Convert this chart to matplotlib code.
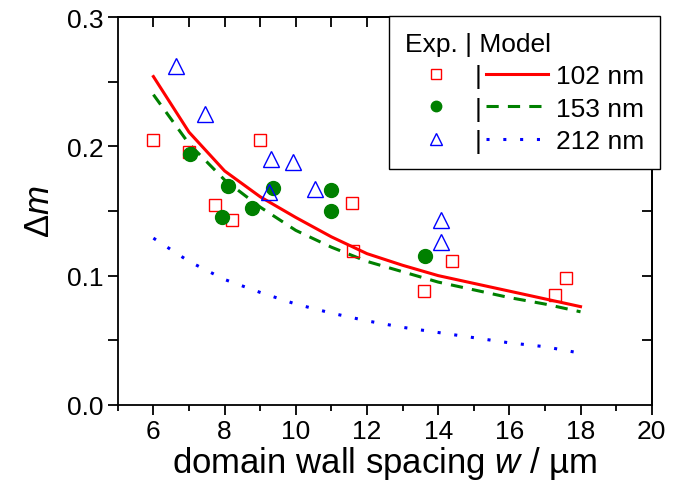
import numpy as np
import matplotlib
matplotlib.use("Agg")
import matplotlib.pyplot as plt
from matplotlib.legend_handler import HandlerLine2D

plt.rcParams['font.family'] = ['Liberation Sans', 'DejaVu Sans']
plt.rcParams['mathtext.fontset'] = 'custom'
plt.rcParams['mathtext.it'] = 'Liberation Sans:italic'
plt.rcParams['mathtext.rm'] = 'Liberation Sans'

# experimental points
exp102_w = [6.0, 7.0, 7.72, 8.2, 9.0, 11.57, 11.6, 13.6, 14.38, 17.27, 17.58]
exp102_m = [0.205, 0.196, 0.155, 0.143, 0.205, 0.156, 0.119, 0.088, 0.111, 0.085, 0.098]
exp153_w = [7.02, 8.09, 7.92, 8.76, 9.35, 10.98, 10.98, 13.62]
exp153_m = [0.194, 0.169, 0.145, 0.152, 0.168, 0.166, 0.150, 0.115]
exp212_w = [6.63, 7.44, 9.3, 9.92, 9.24, 10.53, 14.07, 14.07]
exp212_m = [0.262, 0.225, 0.190, 0.188, 0.165, 0.167, 0.143, 0.126]

# model curves
model_w = [6, 7, 8, 9, 10, 11, 12, 13, 14, 15, 16, 17, 18]
model102 = [0.254, 0.211, 0.181, 0.161, 0.145, 0.130, 0.117, 0.108, 0.100, 0.094, 0.088, 0.082, 0.076]
model153 = [0.240, 0.202, 0.174, 0.153, 0.135, 0.122, 0.111, 0.103, 0.095, 0.089, 0.083, 0.078, 0.072]
model212 = [0.129, 0.111, 0.097, 0.087, 0.078, 0.071, 0.065, 0.060, 0.056, 0.052, 0.048, 0.045, 0.040]

labels = ['102 nm', '153 nm', '212 nm']


class MarkerRight(HandlerLine2D):
    # put the legend marker near the right end of its handle box
    def get_xdata(self, legend, xdescent, ydescent, width, height, fontsize):
        xdata = [-xdescent, -xdescent + width]
        return xdata, [-xdescent + 0.68 * width]


fig = plt.figure(figsize=(6.81, 4.89), dpi=100)
ax = fig.add_axes([0.173, 0.170, 0.784, 0.793])

l1, = ax.plot(model_w, model102, color='red', lw=2.2, ls='-')
l2, = ax.plot(model_w, model153, color='green', lw=2.2, ls=(0, (4, 3)))
l3, = ax.plot(model_w, model212, color='blue', lw=2.2, ls=(0, (1, 4.5)))

p1, = ax.plot(exp102_w, exp102_m, 's', ms=9, mfc='none', mec='red', mew=1.0, ls='none')
p2, = ax.plot(exp153_w, exp153_m, 'o', ms=10, mfc='green', mec='green', ls='none')
p3, = ax.plot(exp212_w, exp212_m, '^', ms=11, mfc='none', mec='blue', mew=1.0, ls='none')

ax.set_xlim(5, 20)
ax.set_ylim(0, 0.3)
ax.set_xticks(np.arange(6, 21, 2))
ax.set_xticks(np.arange(5, 21, 1), minor=True)
ax.set_yticks([0.0, 0.1, 0.2, 0.3])
ax.set_yticks(np.arange(0, 0.31, 0.05), minor=True)
ax.set_yticklabels(['0.0', '0.1', '0.2', '0.3'])
ax.tick_params(which='major', direction='out', length=7, width=1.3, labelsize=19, pad=3)
ax.tick_params(which='minor', direction='out', length=4, width=1.3)
ax.tick_params(axis='y', which='minor', length=7)

# mirrored axes with inward ticks
secx = ax.secondary_xaxis('top')
secx.set_xticks(np.arange(6, 21, 1))
secx.tick_params(direction='in', length=7, width=1.3, labeltop=False)
secy = ax.secondary_yaxis('right')
secy.set_yticks(np.arange(0.05, 0.31, 0.05))
secy.tick_params(direction='in', length=7, width=1.3, labelright=False)
for s in list(ax.spines.values()) + [secx.spines['top'], secy.spines['right']]:
    s.set_linewidth(1.3)

ax.set_xlabel('domain wall spacing $\\mathit{w}$ / µm', fontsize=25, labelpad=1)
ax.set_ylabel('$\\Delta\\mathit{m}$', fontsize=25, labelpad=8)

handles = [p1, p2, p3, l1, l2, l3]
leg_labels = ['|', '|', '|'] + labels
mr = MarkerRight(numpoints=1)
leg = ax.legend(handles, leg_labels, ncol=2, title='Exp. | Model', title_fontsize=19,
                fontsize=19, loc='upper right', bbox_to_anchor=(1.015, 1.003),
                frameon=True, fancybox=False, edgecolor='black', framealpha=1,
                markerscale=0.75, handlelength=2.35, columnspacing=0.15, handletextpad=0.3,
                labelspacing=0.32, borderpad=0.6, borderaxespad=0,
                handler_map={p1: mr, p2: mr, p3: mr})
leg.get_frame().set_linewidth(1.0)
leg._legend_box.align = 'left'

fig.savefig('out.png', dpi=100)
